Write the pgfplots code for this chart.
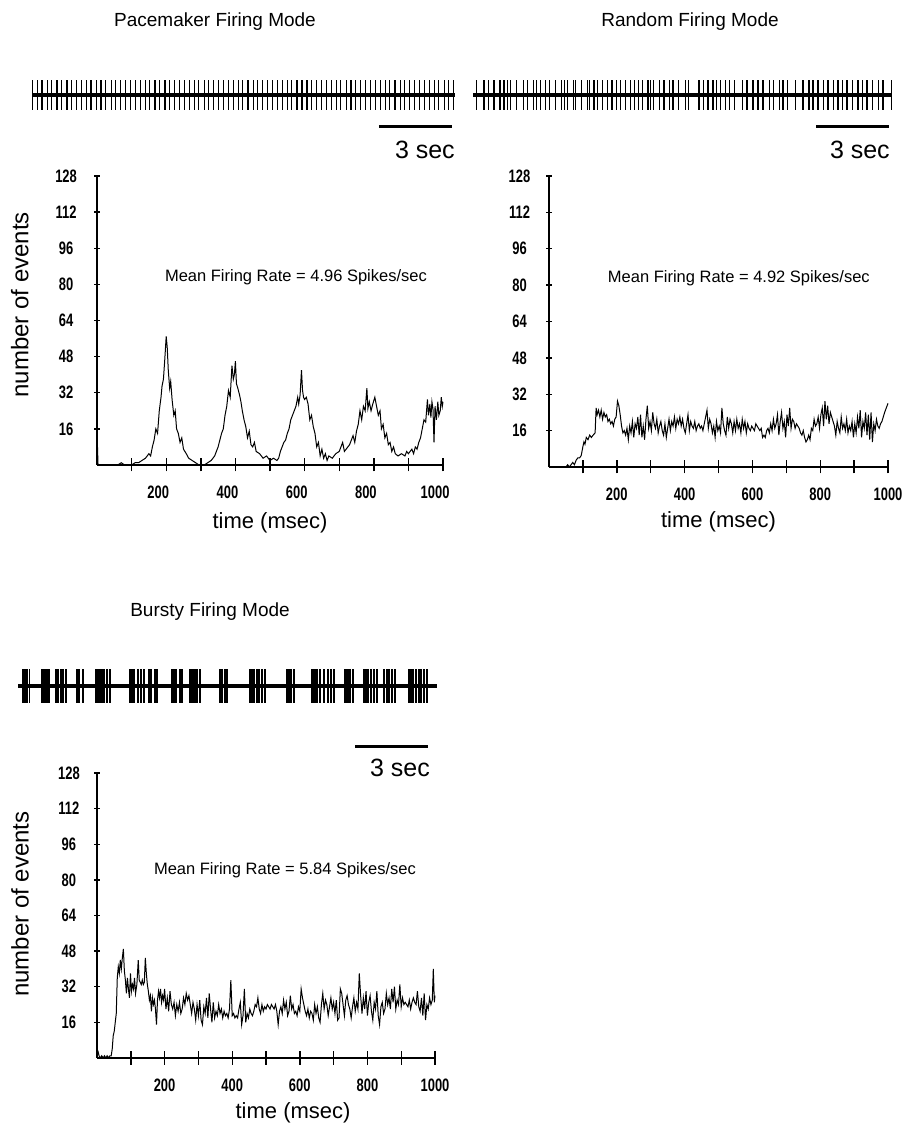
\documentclass[border=0pt]{standalone}
\usepackage{pgfplots}
\pgfplotsset{compat=1.18}
\usepackage{pgfplotstable}
\usepackage{fontspec}
\setmainfont{Liberation Sans}

% spike times (s) read off the three rasters; s = tick half-height
\pgfplotstableread[row sep=\\]{t s\\
0.02 1\\0.22 1\\0.41 1\\0.62 1\\0.81 1\\1.02 1\\1.21 1\\1.43 1\\1.62 1\\1.81 1\\2.03 1\\2.22 1\\2.41 1\\2.63 1\\2.82 1\\3.01 1\\3.23 1\\3.42 1\\3.61 1\\3.83 1\\
4.02 1\\4.21 1\\4.43 1\\4.62 1\\4.81 1\\5.02 1\\5.22 1\\5.43 1\\5.61 1\\5.82 1\\6.03 1\\6.21 1\\6.42 1\\6.62 1\\6.81 1\\7.03 1\\7.22 1\\7.41 1\\7.63 1\\7.82 1\\
8.01 1\\8.22 1\\8.43 1\\8.61 1\\8.82 1\\9.03 1\\9.21 1\\9.42 1\\9.62 1\\9.83 1\\10.01 1\\10.22 1\\10.43 1\\10.61 1\\10.82 1\\11.02 1\\11.23 1\\11.41 1\\11.62 1\\11.83 1\\
12.01 1\\12.22 1\\12.42 1\\12.61 1\\12.83 1\\13.02 1\\13.21 1\\13.42 1\\13.63 1\\13.81 1\\14.02 1\\14.22 1\\14.43 1\\14.61 1\\14.82 1\\15.03 1\\15.21 1\\15.42 1\\15.62 1\\15.81 1\\
16.02 1\\16.23 1\\16.42 1\\16.61 1\\16.83 1\\17.02 1\\17.22 1\\
}\pacetrain

\pgfplotstableread[row sep=\\]{t s\\
0.14 1\\0.45 1\\0.65 1\\0.86 1\\1.11 1\\1.27 1\\1.41 1\\1.55 1\\1.78 1\\2.06 1\\2.24 1\\2.47 1\\2.60 1\\2.78 1\\2.97 1\\3.15 1\\3.38 1\\3.63 1\\3.77 1\\3.88 1\\
4.12 1\\4.20 1\\4.45 1\\4.70 1\\4.80 1\\4.97 1\\5.11 1\\5.33 1\\5.52 1\\5.71 1\\5.89 1\\6.07 1\\6.26 1\\6.48 1\\6.65 1\\6.81 1\\6.95 1\\7.19 1\\7.30 1\\7.41 1\\
7.67 1\\7.85 1\\8.07 1\\8.22 1\\8.45 1\\8.73 1\\8.87 1\\9.29 1\\9.48 1\\9.66 1\\9.86 1\\10.00 1\\10.16 1\\10.39 1\\10.55 1\\10.76 1\\11.07 1\\11.26 1\\11.51 1\\11.71 1\\
11.92 1\\12.17 1\\12.36 1\\12.61 1\\12.74 1\\12.91 1\\13.26 1\\13.56 1\\13.81 1\\13.97 1\\14.18 1\\14.41 1\\14.59 1\\14.80 1\\15.00 1\\15.18 1\\15.37 1\\15.59 1\\15.82 1\\16.00 1\\
16.19 1\\16.41 1\\16.65 1\\16.85 1\\17.20 1\\
}\randtrain

\pgfplotstableread[row sep=\\]{t s\\
0.21 1\\0.29 1\\0.37 1\\0.47 1\\0.99 1\\1.07 1\\1.13 1\\1.19 1\\1.27 1\\1.56 1\\1.64 1\\1.77 1\\1.85 1\\1.97 1\\2.42 1\\2.51 1\\2.67 1\\
3.21 1\\3.29 1\\3.37 1\\3.45 1\\3.53 1\\3.66 1\\3.78 1\\4.60 1\\4.69 1\\4.77 1\\4.93 1\\5.06 1\\5.18 1\\5.38 1\\5.47 1\\5.63 1\\5.71 1\\
6.33 1\\6.41 1\\6.49 1\\6.66 1\\6.74 1\\7.07 1\\7.15 1\\7.21 1\\7.27 1\\7.36 1\\7.48 1\\8.30 1\\8.38 1\\8.51 1\\8.59 1\\
9.54 1\\9.62 1\\9.70 1\\9.82 1\\9.91 1\\10.03 1\\10.15 1\\11.06 1\\11.14 1\\11.22 1\\11.34 1\\12.08 1\\12.14 1\\12.21 1\\12.29 1\\12.41 1\\12.58 1\\
12.74 1\\12.86 1\\12.99 1\\13.44 1\\13.52 1\\13.58 1\\13.65 1\\13.77 1\\14.22 1\\14.30 1\\14.38 1\\14.51 1\\14.63 1\\14.75 1\\
15.04 1\\15.17 1\\15.25 1\\15.37 1\\15.49 1\\16.07 1\\16.15 1\\16.24 1\\16.36 1\\16.48 1\\16.57 1\\16.69 1\\16.81 1\\
}\burstrain

\pgfplotsset{
  train/.style={hide axis, scale only axis, clip=false, xmin=0, ymin=-1, ymax=1, anchor=south west},
  spk/.style={ycomb, black, line width=1.2pt, mark=none},
  bar/.style={black, line width=3pt, mark=none},
  hist/.style={scale only axis, anchor=south west, axis lines=left, axis line style={-},
    x axis line style={line width=2.6pt}, y axis line style={line width=1.8pt},
    xmin=0, xmax=1000, ymin=0, ymax=128,
    xtick={100,200,...,1000}, xticklabels={,200,,400,,600,,800,,1000},
    ytick={16,32,...,128}, tick align=center,
    /pgf/number format/assume math mode=true,
    xtick style={black, line width=1.4pt, /pgfplots/major tick length=13pt},
    ytick style={black, line width=1.4pt, /pgfplots/major tick length=6pt},
    ticklabel style={font=\fontsize{18}{18}\selectfont\bfseries, xscale=0.72},
    xticklabel style={anchor=center, yshift=-25pt},
    xlabel style={font=\fontsize{22}{22}\selectfont},
    ylabel style={font=\fontsize{24}{24}\selectfont},
    clip=false},
  curve/.style={black, line width=1pt, mark=none}
}

\begin{document}
\begin{tikzpicture}
\useasboundingbox (0,0) rectangle (910pt,1129pt);

\node[font=\fontsize{19}{19}\selectfont] at (215pt,1107pt) {Pacemaker Firing Mode};
\node[font=\fontsize{19}{19}\selectfont] at (690pt,1107pt) {Random Firing Mode};
\node[font=\fontsize{19}{19}\selectfont] at (210pt,517pt) {Bursty Firing Mode};

% ---------- pacemaker raster
\begin{axis}[train, at={(32pt,1019pt)}, width=423pt, height=30pt, xmax=17.27]
  \addplot[spk] table[x=t, y=s] {\pacetrain};
  \addplot[spk] table[x=t, y expr=-\thisrow{s}] {\pacetrain};
  \addplot[black, line width=4pt, mark=none] coordinates {(0,0) (17.27,0)};
  \addplot[bar] coordinates {(14.16,-2.13) (17.14,-2.13)};
  \node[font=\fontsize{25}{25}\selectfont] at (axis cs:16.04,-3.67) {3 sec};
\end{axis}

% ---------- random raster
\begin{axis}[train, at={(473pt,1018.5pt)}, width=419pt, height=30pt, xmax=17.22]
  \addplot[spk] table[x=t, y=s] {\randtrain};
  \addplot[spk] table[x=t, y expr=-\thisrow{s}] {\randtrain};
  \addplot[black, line width=4pt, mark=none] coordinates {(0,0) (17.22,0)};
  \addplot[bar] coordinates {(14.10,-2.1) (17.10,-2.1)};
  \node[font=\fontsize{25}{25}\selectfont] at (axis cs:15.9,-3.6) {3 sec};
\end{axis}

% ---------- bursty raster
\begin{axis}[train, at={(18pt,426pt)}, width=419pt, height=34pt, xmax=17.22]
  \addplot[spk, line width=1.4pt] table[x=t, y=s] {\burstrain};
  \addplot[spk, line width=1.4pt] table[x=t, y expr=-\thisrow{s}] {\burstrain};
  \addplot[black, line width=4pt, mark=none] coordinates {(0,0) (17.22,0)};
  \addplot[bar] coordinates {(13.85,-3.53) (16.85,-3.53)};
  \node[font=\fontsize{25}{25}\selectfont] at (axis cs:15.7,-4.82) {3 sec};
\end{axis}

% ---------- pacemaker histogram
\begin{axis}[hist, at={(97pt,664pt)}, width=346pt, height=289pt,
  xticklabel style={xshift=-11pt},
  yticklabel style={anchor=center, xshift=-40pt},
  xlabel={time (msec)}, ylabel={number of events},
  xlabel style={at={(axis description cs:0.5,-0.2)}, anchor=center},
  ylabel style={at={(axis description cs:-0.223,0.554)}, anchor=center}]
  \addplot[curve] coordinates {
(0,0)(1,10)(3,0)(20,0)(60,0)(70,1)(80,0)(100,0)(110,1)(120,1)(130,2)(140,3)(150,5)(155,4)(160,8)(165,11)(170,16)(175,14)(180,24)(185,30)(188,35)(192,38)(196,47)(200,57)(203,52)(206,42)(210,34)(213,37)(217,29)(222,22)(226,24)(230,16)(235,14)(240,10)(245,12)(250,7)(258,5)(265,3)(275,2)(285,1)(295,0)(310,0)(320,1)(330,2)(340,4)(350,8)(355,11)(360,14)(365,16)(370,22)(375,26)(380,33)(385,30)(390,44)(394,38)(397,40)(400,46)(403,36)(407,34)(412,31)(416,28)(420,24)(425,20)(430,17)(435,12)(440,15)(445,9)(450,8)(455,10)(460,6)(470,5)(480,3)(490,4)(500,2)(510,3)(520,2)(525,3)(530,6)(535,8)(540,10)(545,11)(550,14)(555,16)(560,20)(565,22)(570,24)(575,26)(580,30)(583,27)(587,31)(591,42)(594,33)(597,30)(600,29)(605,30)(610,27)(615,20)(620,22)(625,17)(630,14)(635,8)(640,10)(645,4)(650,7)(655,3)(660,5)(665,2)(670,4)(680,3)(690,5)(700,6)(710,10)(715,6)(720,7)(730,9)(740,13)(745,10)(750,15)(755,18)(760,24)(765,20)(770,26)(775,24)(780,34)(783,25)(787,28)(792,24)(797,27)(803,30)(808,26)(813,22)(818,24)(822,16)(827,18)(832,12)(837,14)(842,9)(847,10)(852,6)(857,8)(862,5)(870,4)(880,5)(890,4)(895,6)(900,5)(910,7)(915,5)(920,8)(925,7)(930,10)(935,12)(940,16)(945,20)(950,19)(955,29)(958,22)(962,27)(965,21)(968,28)(971,25)(974,10)(977,26)(981,20)(985,28)(988,22)(992,24)(995,30)(998,26)(1000,28)
  };
  \node[font=\fontsize{16.5}{16.5}\selectfont] at (axis cs:575,83.3) {Mean Firing Rate = 4.96 Spikes/sec};
\end{axis}

% ---------- random histogram
\begin{axis}[hist, at={(549pt,662pt)}, width=339pt, height=291pt,
  yticklabel style={anchor=center, xshift=-38pt},
  xlabel={time (msec)},
  xlabel style={at={(axis description cs:0.5,-0.189)}, anchor=center}]
  \addplot[curve] coordinates {
(0,0)(50,0)(55,1)(60,0)(65,1)(70,2)(75,1)(80,3)(85,4)(90,4)(95,5)(100,9)(103,11)(106,10)(110,13)(115,12)(120,14)(125,13)(130,14)(136,15)(139,26)(142,23)(146,25)(150,22)(154,25)(158,21)(162,24)(166,22)(170,23)(174,20)(178,21)(182,19)(186,20)(190,18)(194,21)(198,22)(202,29)(206,27)(210,23)(214,18)(218,15)(222,16)(226,14)(230,17)(234,12)(238,18)(242,15)(246,20)(250,13)(254,19)(258,17)(262,22)(266,14)(270,23)(274,13)(278,18)(282,12)(286,21)(290,27)(294,17)(298,20)(302,16)(306,24)(310,19)(314,17)(318,21)(322,15)(326,18)(330,20)(334,16)(338,14)(342,19)(346,13)(350,17)(354,21)(358,16)(362,20)(366,18)(370,22)(374,17)(378,21)(382,19)(386,22)(390,18)(394,21)(398,17)(402,15)(406,19)(410,23)(414,16)(418,20)(422,18)(426,17)(430,20)(434,16)(438,18)(442,19)(446,17)(450,18)(454,16)(458,19)(462,22)(466,25)(470,17)(474,21)(478,19)(482,15)(486,18)(490,13)(494,20)(498,16)(502,18)(506,15)(510,26)(514,19)(518,16)(522,14)(526,22)(530,17)(534,21)(538,19)(542,15)(546,20)(550,16)(554,21)(558,17)(562,19)(566,15)(570,21)(574,17)(578,20)(582,15)(586,19)(590,17)(594,16)(598,18)(602,17)(606,16)(610,19)(614,18)(618,17)(622,16)(626,17)(630,13)(634,14)(638,13)(642,16)(646,17)(650,15)(654,19)(658,16)(662,21)(666,17)(670,19)(674,23)(678,14)(682,20)(686,24)(690,17)(694,20)(698,13)(702,23)(706,18)(710,26)(714,17)(718,21)(722,20)(726,17)(730,19)(734,18)(738,17)(742,15)(746,14)(750,16)(754,13)(758,11)(762,12)(766,14)(770,12)(774,17)(778,16)(782,21)(786,18)(790,19)(794,22)(798,17)(802,23)(806,26)(810,18)(814,29)(818,21)(822,27)(826,19)(830,24)(834,22)(838,20)(842,18)(846,14)(850,20)(854,17)(858,15)(862,22)(866,17)(870,19)(874,16)(878,21)(882,15)(886,18)(890,16)(894,20)(898,13)(902,19)(906,15)(910,22)(914,17)(918,25)(922,13)(926,20)(930,17)(934,24)(938,14)(942,23)(946,12)(950,24)(954,11)(958,19)(962,16)(966,21)(970,18)(974,17)(978,19)(982,20)(986,22)(990,24)(995,26)(1000,28)
  };
  \node[font=\fontsize{16.5}{16.5}\selectfont] at (axis cs:560,83.1) {Mean Firing Rate = 4.92 Spikes/sec};
\end{axis}

% ---------- bursty histogram
\begin{axis}[hist, at={(97pt,71pt)}, width=338pt, height=285pt,
  yticklabel style={anchor=center, xshift=-36pt},
  xlabel={time (msec)}, ylabel={number of events},
  xlabel style={at={(axis description cs:0.58,-0.193)}, anchor=center},
  ylabel style={at={(axis description cs:-0.228,0.54)}, anchor=center}]
  \addplot[curve] coordinates {
(0,4)(3,3)(6,1)(10,0)(14,1)(18,0)(22,1)(26,0)(30,1)(34,0)(38,1)(42,1)(45,4)(48,10)(51,12)(54,16)(57,20)(60,36)(63,41)(66,38)(69,44)(72,40)(75,45)(78,49)(81,39)(84,35)(87,29)(90,36)(93,31)(96,27)(99,38)(102,30)(105,33)(108,31)(111,36)(114,29)(118,33)(122,44)(125,35)(128,34)(131,33)(134,35)(137,33)(140,34)(143,45)(146,38)(149,33)(152,30)(155,26)(158,28)(161,21)(164,27)(167,24)(170,26)(173,22)(176,15)(179,26)(182,30)(185,27)(188,31)(191,25)(194,28)(197,26)(200,31)(204,22)(208,27)(212,21)(216,30)(220,24)(224,22)(228,25)(232,19)(236,24)(240,21)(244,25)(248,20)(252,22)(256,27)(260,24)(264,29)(268,26)(272,28)(276,24)(280,20)(284,25)(288,22)(292,17)(296,24)(300,19)(304,26)(308,17)(312,15)(316,23)(320,20)(324,27)(328,18)(332,29)(336,22)(340,16)(344,25)(348,18)(352,21)(356,19)(360,24)(364,20)(368,22)(372,18)(376,21)(380,19)(384,20)(388,18)(392,22)(396,35)(400,19)(404,20)(408,18)(412,19)(416,18)(420,22)(424,25)(428,15)(432,19)(436,31)(440,16)(444,20)(448,18)(452,22)(456,20)(460,19)(464,21)(468,24)(472,23)(476,27)(480,22)(484,20)(488,24)(492,21)(496,23)(500,22)(504,24)(508,23)(512,22)(516,24)(520,23)(524,22)(528,24)(532,21)(536,15)(540,21)(544,23)(548,20)(552,26)(556,22)(560,25)(564,19)(568,21)(572,28)(576,22)(580,24)(584,20)(588,21)(592,19)(596,23)(600,21)(604,31)(608,27)(612,24)(616,21)(620,19)(624,22)(628,18)(632,21)(636,20)(640,17)(644,24)(648,20)(652,23)(656,18)(660,16)(664,24)(668,29)(672,22)(676,26)(680,24)(684,19)(688,23)(692,27)(696,22)(700,25)(704,20)(708,26)(712,17)(716,18)(720,31)(724,29)(728,24)(732,19)(736,26)(740,28)(744,24)(748,22)(752,18)(756,23)(760,27)(764,21)(768,25)(772,22)(776,38)(780,28)(784,20)(788,27)(792,22)(796,30)(800,19)(804,25)(808,28)(812,21)(816,17)(820,25)(824,22)(828,30)(832,19)(836,15)(840,23)(844,25)(848,20)(852,22)(856,29)(860,24)(864,27)(868,22)(872,31)(876,25)(880,32)(884,22)(888,26)(892,24)(896,33)(900,23)(904,27)(908,24)(912,25)(916,24)(920,23)(924,26)(928,22)(932,25)(936,27)(940,25)(944,24)(948,30)(952,23)(956,21)(960,27)(964,19)(968,29)(972,17)(976,24)(980,22)(984,27)(988,24)(992,26)(995,40)(998,25)(1000,28)
  };
  \node[font=\fontsize{16.5}{16.5}\selectfont] at (axis cs:556,84.4) {Mean Firing Rate = 5.84 Spikes/sec};
\end{axis}
\end{tikzpicture}
\end{document}
